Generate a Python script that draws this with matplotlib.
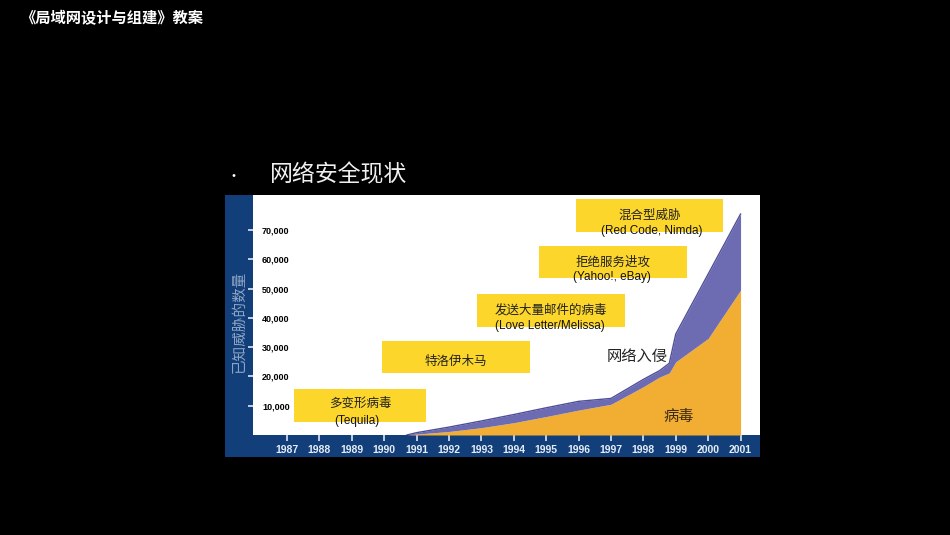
import matplotlib
matplotlib.use("Agg")
import matplotlib.pyplot as plt
from matplotlib.patches import Rectangle

plt.rcParams['font.family'] = ['Noto Sans CJK SC', 'DejaVu Sans']

# data
years = [1990.7, 1991, 1992, 1993, 1994, 1995, 1996, 1997, 1998, 1998.5, 1998.8, 1999, 2000, 2001]
virus = [0, 300, 1200, 2500, 4200, 6300, 8500, 10500, 16500, 19800, 21200, 25000, 33000, 49500]
total = [0, 800, 2700, 4800, 7000, 9300, 11500, 12500, 19000, 22000, 24500, 34500, 55000, 75500]

year_ticks = list(range(1987, 2002))
value_ticks = [10000, 20000, 30000, 40000, 50000, 60000, 70000]

events = ["多变形病毒", "特洛伊木马", "发送大量邮件的病毒", "拒绝服务进攻", "混合型威胁"]
examples = ["(Tequila)", "", "(Love Letter/Melissa)", "(Yahoo!, eBay)", "(Red Code, Nimda)"]

# box layout in axes fraction: x0, y0, w, h, text x, cn y, en x, en y
box_pos = [
    (0.081, 0.054, 0.260, 0.138, 0.211, 0.133, 0.205, 0.060),
    (0.254, 0.258, 0.292, 0.134, 0.400, 0.308, 0.400, 0.0),
    (0.442, 0.450, 0.292, 0.138, 0.587, 0.521, 0.586, 0.454),
    (0.564, 0.654, 0.292, 0.134, 0.710, 0.721, 0.708, 0.658),
    (0.637, 0.846, 0.290, 0.138, 0.783, 0.917, 0.787, 0.850),
]

W, H = 950, 535
fig = plt.figure(figsize=(9.5, 5.35), dpi=100, facecolor="black")

def fx(px):
    return px / W

def fy(py):
    return 1 - py / H

# blue frame behind the plot
band = "#123f7a"
fig.add_artist(Rectangle((fx(225), fy(457)), fx(253 - 225), fy(195) - fy(457),
                         transform=fig.transFigure, facecolor=band, edgecolor="none", zorder=-5))
fig.add_artist(Rectangle((fx(225), fy(457)), fx(760 - 225), fy(435) - fy(457),
                         transform=fig.transFigure, facecolor=band, edgecolor="none", zorder=-5))

ax = fig.add_axes([fx(253), fy(435), fx(760 - 253), fy(195) - fy(435)])
ax.set_facecolor("white")
ax.fill_between(years, 0, virus, color="#f2ad33", linewidth=0, zorder=2)
ax.fill_between(years, virus, total, color="#6d6cb2", linewidth=0, zorder=2)
ax.plot(years, total, color="#4f4f98", linewidth=1.0, zorder=3)

ax.set_xlim(1985.95, 2001.6)
ax.set_ylim(0, 82000)
for s in ax.spines.values():
    s.set_visible(False)

ax.set_xticks(year_ticks)
ax.set_xticklabels([str(y) for y in year_ticks])
ax.tick_params(axis="x", direction="out", length=4, width=1.2, color="#dde6f0",
               labelsize=7.5, labelcolor="#e6edf5", pad=3)
ax.set_yticks(value_ticks)
ax.set_yticklabels([f"{v:,}" for v in value_ticks])
ax.tick_params(axis="y", direction="out", length=3.5, width=1.2, color="#dde6f0",
               labelsize=6.5, labelcolor="black", pad=-10)
for lab in ax.get_yticklabels():
    lab.set_horizontalalignment("left")
    lab.set_fontweight("bold")
    lab.set_family("Liberation Sans")
for lab in ax.get_xticklabels():
    lab.set_fontweight("bold")
    lab.set_family("Liberation Sans")

for name, ex, pos in zip(events, examples, box_pos):
    x0, y0, w, h, tx, ty, ex_x, ex_y = pos
    ax.add_patch(Rectangle((x0, y0), w, h, transform=ax.transAxes,
                           facecolor="#fdd62c", edgecolor="none", zorder=4))
    ax.text(tx, ty, name, transform=ax.transAxes, ha="center", va="center",
            fontsize=9, color="#222222", zorder=5)
    if ex:
        ax.text(ex_x, ex_y, ex, transform=ax.transAxes, ha="center", va="center",
                fontsize=8.5, color="#111111", family="Liberation Sans", zorder=5)

ax.text(0.757, 0.329, "网络入侵", transform=ax.transAxes, ha="center", va="center",
        fontsize=11, color="#222222", zorder=5)
ax.text(0.840, 0.075, "病毒", transform=ax.transAxes, ha="center", va="center",
        fontsize=11, color="#3a2a10", zorder=5)

fig.text(fx(239), fy(322), "已知威胁的数量", rotation=90, ha="center", va="center",
         fontsize=10.5, color="#8ea6c6")

fig.text(fx(20), fy(18), "《局域网设计与组建》教案", ha="left", va="center",
         fontsize=11, color="white", fontweight="bold")
fig.text(fx(226), fy(177), "·", ha="left", va="center", fontsize=10, color="white")
fig.text(fx(270), fy(175), "网络安全现状", ha="left", va="center",
         fontsize=16.5, color="#f0f0f0")

fig.savefig("out.png", dpi=100, facecolor="black")
